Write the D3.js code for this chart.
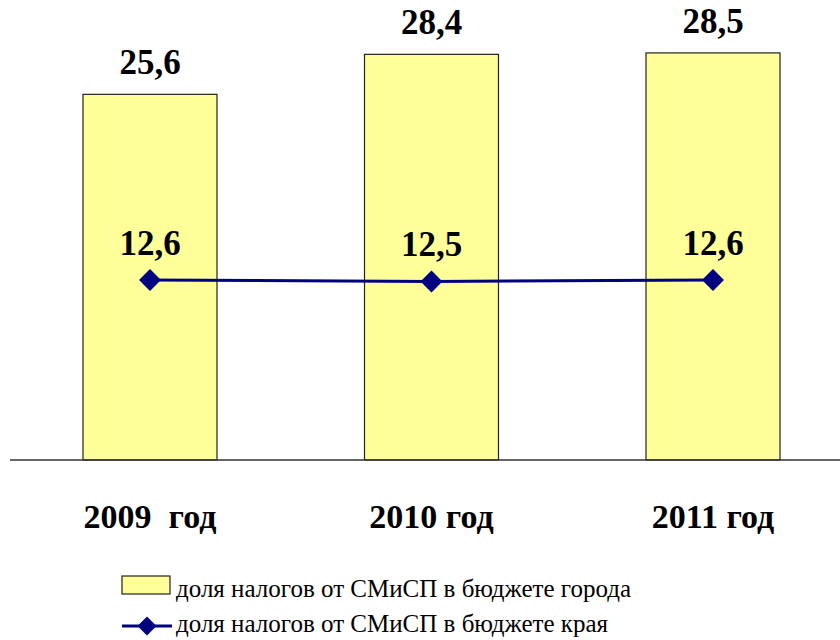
<!DOCTYPE html>
<html><head><meta charset="utf-8">
<script src="https://cdn.jsdelivr.net/npm/d3@7"></script>
<style>
@font-face{font-family:"ChartSerif";font-weight:normal;src:local("Liberation Serif"),local("LiberationSerif");}
@font-face{font-family:"ChartSerif";font-weight:bold;src:local("Liberation Serif Bold"),local("LiberationSerif-Bold");}
body{margin:0;background:#fff}
#wrap{position:relative;width:840px;height:640px;overflow:hidden}
#wrap svg{position:absolute;left:0;top:0}
</style>
</head><body>
<div id="wrap"></div>
<script>
const categories = ["2009  год", "2010 год", "2011 год"];
const cityShare = [25.6, 28.4, 28.5];
const regionShare = [12.6, 12.5, 12.6];
const cityLabels = ["25,6", "28,4", "28,5"];
const regionLabels = ["12,6", "12,5", "12,6"];
const legendLabels = ["доля налогов от СМиСП в бюджете города", "доля налогов от СМиСП в бюджете края"];

const W = 840, H = 640;
const wrap = d3.select("#wrap");
const svg = wrap.append("svg").attr("width", W).attr("height", H);

const x = d3.scaleBand().domain(categories).range([9.25, 853.75]).paddingInner(0.524).paddingOuter(0.262);
const y = d3.scaleLinear().domain([0, 30]).range([460, 31.5]);
const cx = c => x(c) + x.bandwidth() / 2;

// HTML text placed with its baseline at a given y
const ASC = 0.8375;
function label(sel, fs, bold, anchor, left, base) {
  sel.each(function (d, i) {
    const l = left(d, i), t = base(d, i) - ASC * fs;
    this.setAttribute("style",
      `position:absolute;white-space:pre;color:#000;line-height:1;` +
      `font:${bold ? "bold" : "normal"} ${fs}px/1 'Liberation Serif', ChartSerif, Tinos, 'Times New Roman', serif;` +
      `left:${l}px;top:${t}px;` + (anchor === "middle" ? "transform:translateX(-50%);" : ""));
  });
  return sel;
}

svg.selectAll("rect.bar").data(categories).join("rect")
  .attr("x", d => x(d)).attr("y", (d, i) => y(cityShare[i]))
  .attr("width", x.bandwidth()).attr("height", (d, i) => y(0) - y(cityShare[i]))
  .attr("fill", "#FFFF99").attr("stroke", "#222").attr("stroke-width", 1.2);

svg.append("line").attr("x1", 10).attr("x2", W).attr("y1", y(0)).attr("y2", y(0))
  .attr("stroke", "#333").attr("stroke-width", 1.3);

const line = d3.line().x((d, i) => cx(categories[i])).y(d => y(d));
svg.append("path").datum(regionShare).attr("d", line)
  .attr("fill", "none").attr("stroke", "#000080").attr("stroke-width", 3);

svg.selectAll("path.mk").data(regionShare).join("path")
  .attr("d", d3.symbol().type(d3.symbolSquare).size(240)())
  .attr("transform", (d, i) => `translate(${cx(categories[i])},${y(d)}) rotate(45)`)
  .attr("fill", "#000080");

const FS1 = 35, FS2 = 34, FS3 = 25;

label(wrap.selectAll("div.bl").data(categories).join("div").text((d, i) => cityLabels[i]),
  FS1, true, "middle", d => cx(d), (d, i) => y(cityShare[i]) - 20);

label(wrap.selectAll("div.ll").data(categories, d => "l" + d).join("div").text((d, i) => regionLabels[i]),
  FS1, true, "middle", d => cx(d), (d, i) => y(regionShare[i]) - 25);

label(wrap.selectAll("div.cat").data(categories, d => "c" + d).join("div").text(d => d),
  FS2, true, "middle", d => cx(d), () => 528);

// legend
const lg = svg.append("g");
lg.append("rect").attr("x", 122).attr("y", 576).attr("width", 48).attr("height", 18)
  .attr("fill", "#FFFF99").attr("stroke", "#222").attr("stroke-width", 1.2);
lg.append("line").attr("x1", 122).attr("x2", 172).attr("y1", 626).attr("y2", 626)
  .attr("stroke", "#000080").attr("stroke-width", 3);
lg.append("path").attr("d", d3.symbol().type(d3.symbolSquare).size(180)())
  .attr("transform", "translate(147,626) rotate(45)").attr("fill", "#000080");
label(wrap.selectAll("div.lg").data(legendLabels, d => "g" + d).join("div").text(d => d),
  FS3, false, "start", () => 176, (d, i) => 597 + i * 35);
</script>
</body></html>
